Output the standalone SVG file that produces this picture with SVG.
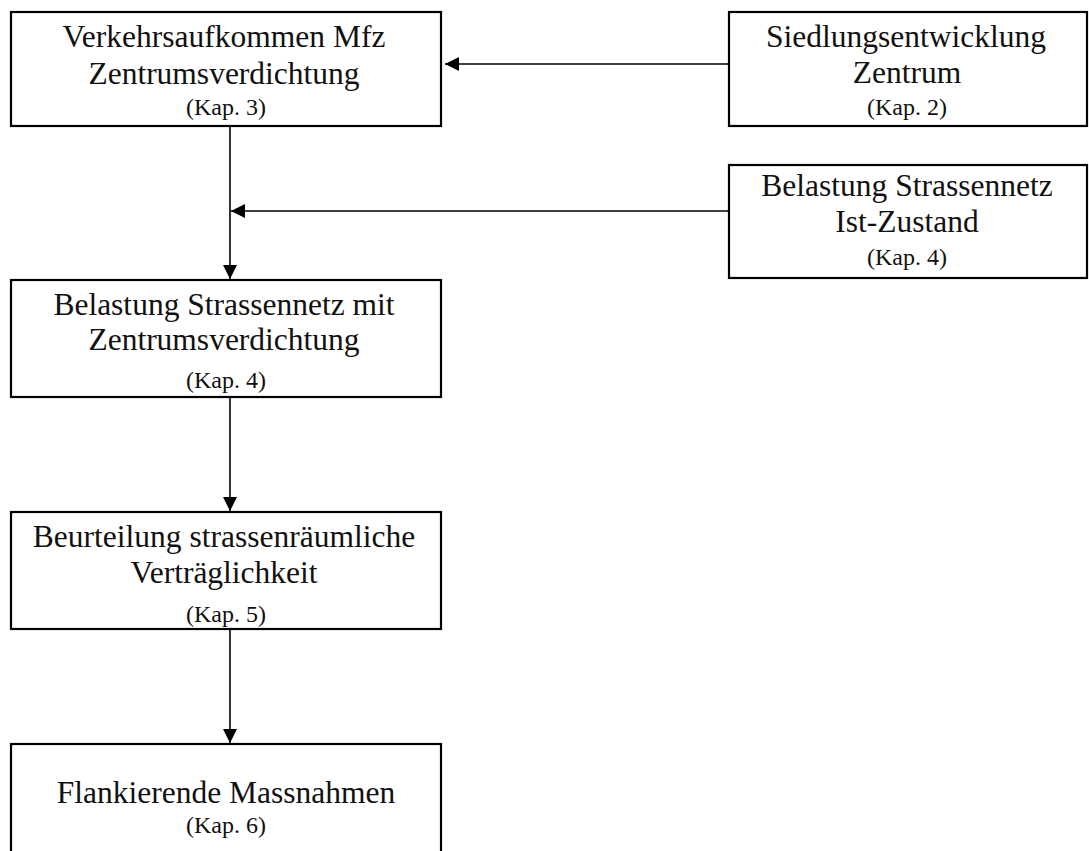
<svg xmlns="http://www.w3.org/2000/svg" width="1089" height="851" viewBox="0 0 1089 851">
  <style>
    .box { fill: #ffffff; stroke: #000000; stroke-width: 2.2; }
    .main { font-family: "Liberation Serif", "Times New Roman", serif; font-size: 31.5px; fill: #111111; text-anchor: middle; }
    .ref { font-family: "Liberation Serif", "Times New Roman", serif; font-size: 24px; fill: #111111; text-anchor: middle; }
    .conn { stroke: #000000; stroke-width: 1.6; fill: none; }
  </style>
  <defs>
    <marker id="arrow" viewBox="0 0 14 14" refX="14" refY="7" markerWidth="14" markerHeight="14" markerUnits="userSpaceOnUse" orient="auto">
      <path d="M0,0 L14,7 L0,14 Z" fill="#000000"/>
    </marker>
  </defs>
  <rect width="1089" height="851" fill="#ffffff"/>

  <!-- connectors -->
  <g id="connectors">
    <line class="conn" x1="729" y1="64" x2="445" y2="64" marker-end="url(#arrow)"/>
    <line class="conn" x1="230" y1="127" x2="230" y2="279" marker-end="url(#arrow)"/>
    <line class="conn" x1="729" y1="211" x2="231" y2="211" marker-end="url(#arrow)"/>
    <line class="conn" x1="230" y1="398" x2="230" y2="511" marker-end="url(#arrow)"/>
    <line class="conn" x1="230" y1="630" x2="230" y2="743" marker-end="url(#arrow)"/>
  </g>

  <g id="verkehrsaufkommen">
    <rect class="box" x="11" y="12" width="430" height="114"/>
    <text class="main" x="224" y="47">Verkehrsaufkommen Mfz</text>
    <text class="main" x="224" y="84">Zentrumsverdichtung</text>
    <text class="ref" x="226" y="115">(Kap. 3)</text>
  </g>

  <g id="siedlungsentwicklung">
    <rect class="box" x="729" y="12" width="358" height="114"/>
    <text class="main" x="906" y="47">Siedlungsentwicklung</text>
    <text class="main" x="907" y="83">Zentrum</text>
    <text class="ref" x="907" y="115">(Kap. 2)</text>
  </g>

  <g id="belastung-ist">
    <rect class="box" x="729" y="165" width="358" height="113"/>
    <text class="main" x="907" y="196">Belastung Strassennetz</text>
    <text class="main" x="907" y="232">Ist-Zustand</text>
    <text class="ref" x="907" y="265">(Kap. 4)</text>
  </g>

  <g id="belastung-verdichtung">
    <rect class="box" x="11" y="280" width="430" height="117"/>
    <text class="main" x="224" y="315">Belastung Strassennetz mit</text>
    <text class="main" x="224" y="350">Zentrumsverdichtung</text>
    <text class="ref" x="226" y="388">(Kap. 4)</text>
  </g>

  <g id="beurteilung">
    <rect class="box" x="11" y="512" width="430" height="117"/>
    <text class="main" x="224" y="547">Beurteilung strassenräumliche</text>
    <text class="main" x="224" y="583">Verträglichkeit</text>
    <text class="ref" x="226" y="622">(Kap. 5)</text>
  </g>

  <g id="massnahmen">
    <rect class="box" x="11" y="744" width="430" height="130"/>
    <text class="main" x="226" y="803">Flankierende Massnahmen</text>
    <text class="ref" x="226" y="833">(Kap. 6)</text>
  </g>
</svg>
